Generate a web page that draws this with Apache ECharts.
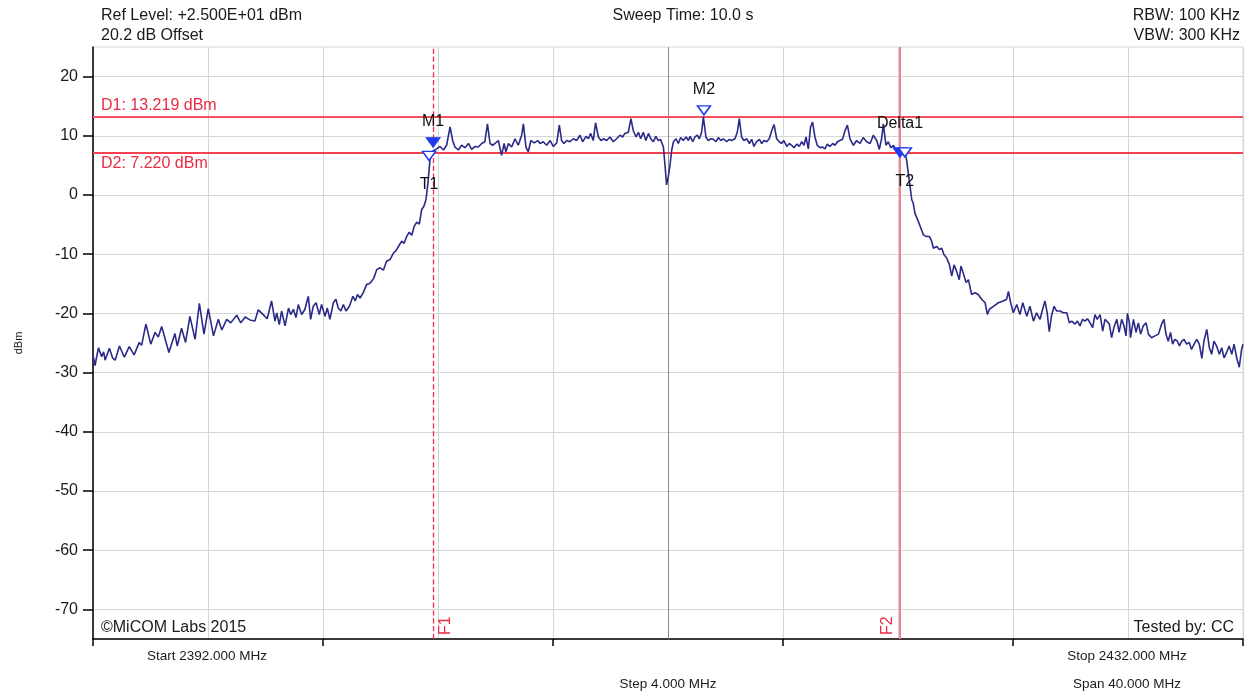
<!DOCTYPE html>
<html>
<head>
<meta charset="utf-8">
<script src="https://cdn.jsdelivr.net/npm/echarts@6/dist/echarts.min.js"></script>
<style>
html,body{margin:0;padding:0;background:#fff;}
#chart{width:1250px;height:695px;}
</style>
</head>
<body>
<div id="chart"></div>
<script>
// ---- axis ranges & ticks ----
const freqStart = 2392, freqStop = 2432, freqStep = 4, freqMajorStep = 8;
const levelMin = -75, levelMax = 25;
const levelTicks = [-70, -60, -50, -40, -30, -20, -10, 0, 10, 20];

// ---- display lines ----
const d1Level = 13.219, d2Level = 7.220;
const f1Freq = 2403.83, f2Freq = 2420.07, centerFreq = 2412;

// ---- trace: [MHz, dBm] ----
const trace = [
[2392.00,-27.0],[2392.07,-28.8],[2392.19,-25.8],[2392.30,-27.3],[2392.37,-26.5],[2392.42,-27.9],[2392.57,-25.9],[2392.68,-27.5],[2392.77,-27.9],[2392.92,-25.5],
[2393.09,-27.4],[2393.26,-25.6],[2393.43,-27.0],[2393.61,-24.9],[2393.69,-25.4],[2393.84,-21.8],[2394.01,-25.2],[2394.16,-23.2],[2394.27,-24.0],[2394.39,-22.2],
[2394.64,-26.6],[2394.85,-23.4],[2394.93,-25.5],[2395.08,-22.5],[2395.22,-24.9],[2395.37,-20.5],[2395.55,-24.4],[2395.70,-18.3],[2395.86,-23.5],[2396.01,-19.2],
[2396.19,-23.8],[2396.36,-21.0],[2396.48,-22.8],[2396.65,-21.0],[2396.79,-21.6],[2397.00,-20.3],[2397.14,-21.6],[2397.29,-20.6],[2397.46,-21.1],[2397.63,-21.3],
[2397.75,-19.4],[2397.92,-20.2],[2398.06,-20.9],[2398.21,-17.9],[2398.33,-21.3],
[2398.39,-19.9],[2398.48,-21.9],[2398.56,-19.6],[2398.68,-22.1],[2398.80,-19.1],[2398.88,-20.2],[2398.97,-19.3],[2399.06,-20.7],[2399.14,-18.5],[2399.26,-20.2],
[2399.37,-19.3],[2399.49,-17.1],[2399.57,-21.0],[2399.66,-18.8],[2399.76,-18.2],[2399.87,-20.2],[2399.95,-18.5],[2400.07,-20.5],[2400.15,-19.1],[2400.24,-21.0],
[2400.36,-18.2],[2400.45,-17.6],[2400.53,-19.1],[2400.62,-19.6],[2400.71,-18.5],[2400.80,-19.6],[2400.92,-18.8],[2401.04,-17.1],[2401.12,-17.9],[2401.20,-16.8],
[2401.29,-17.4],[2401.40,-16.5],[2401.52,-15.1],[2401.61,-15.0],[2401.69,-14.6],[2401.77,-14.0],[2401.87,-12.6],[2401.98,-12.3],[2402.10,-12.7],[2402.21,-11.2],
[2402.33,-10.9],[2402.45,-9.8],[2402.54,-9.4],[2402.66,-8.4],[2402.74,-7.8],[2402.82,-8.2],[2402.91,-7.0],[2403.00,-6.3],[2403.09,-6.8],[2403.17,-5.3],
[2403.26,-4.6],[2403.35,-4.9],[2403.43,-2.5],[2403.51,-1.9],[2403.58,-0.8],[2403.65,2.0],[2403.72,5.9],[2403.79,7.3],
[2403.95,7.8],[2404.07,8.2],[2404.19,7.6],[2404.30,8.4],[2404.42,11.5],[2404.51,9.2],[2404.59,8.1],[2404.71,7.6],[2404.82,8.4],[2404.94,8.0],
[2405.06,8.7],[2405.17,7.7],[2405.29,8.2],[2405.40,8.1],[2405.52,8.7],[2405.63,9.0],[2405.72,12.0],[2405.81,8.7],[2405.90,8.4],[2405.98,8.7],
[2406.10,9.2],[2406.21,6.7],[2406.30,8.7],[2406.36,7.3],[2406.45,8.7],[2406.56,8.1],[2406.68,9.5],[2406.79,8.4],[2406.91,10.1],[2406.97,12.0],
[2407.06,8.1],[2407.14,7.3],[2407.23,9.2],[2407.35,8.8],[2407.47,9.2],[2407.55,8.7],[2407.66,9.0],[2407.78,8.4],[2407.90,9.2],[2408.01,8.2],
[2408.13,8.8],[2408.22,11.8],[2408.30,9.2],[2408.38,8.7],[2408.48,9.2],[2408.59,9.0],[2408.71,9.5],[2408.82,9.2],[2408.94,10.1],[2409.03,9.0],
[2409.15,9.9],[2409.23,9.5],[2409.31,10.4],[2409.40,9.2],[2409.48,12.2],[2409.58,9.8],[2409.67,9.2],[2409.75,9.5],[2409.87,9.2],[2409.98,9.8],
[2410.10,9.0],[2410.21,9.5],[2410.33,10.1],[2410.42,9.8],[2410.50,10.4],[2410.62,10.6],[2410.71,12.9],[2410.79,10.9],[2410.89,9.8],[2410.97,10.6],
[2411.05,9.5],[2411.14,10.6],[2411.23,9.2],[2411.32,10.4],[2411.40,9.5],[2411.49,9.0],[2411.58,9.9],[2411.66,9.2],[2411.74,9.4],[2411.84,8.1],
[2411.92,3.6],[2411.95,1.7],[2412.01,3.1],[2412.07,5.0],[2412.13,7.6],[2412.19,9.0],[2412.28,9.5],[2412.36,8.7],[2412.44,9.7],[2412.53,9.2],
[2412.63,9.8],[2412.71,9.2],[2412.77,9.9],[2412.86,9.0],[2412.94,9.8],[2413.02,10.1],[2413.09,9.5],[2413.17,10.6],[2413.23,13.2],[2413.32,9.8],
[2413.40,9.2],[2413.48,9.5],[2413.58,9.4],[2413.67,9.0],[2413.75,9.7],[2413.84,9.2],[2413.92,9.5],[2414.04,9.0],[2414.13,9.4],[2414.21,9.2],
[2414.33,9.5],[2414.41,10.6],[2414.48,12.9],[2414.56,9.8],[2414.64,9.2],[2414.74,9.5],[2414.83,8.7],[2414.91,9.4],[2414.99,8.2],[2415.08,9.0],
[2415.18,9.4],[2415.26,8.7],[2415.34,9.2],[2415.43,9.0],[2415.52,9.5],[2415.61,10.9],[2415.69,11.9],[2415.78,9.5],[2415.87,9.0],[2415.95,8.7],
[2416.03,9.2],[2416.13,8.2],[2416.22,8.7],[2416.30,8.4],[2416.38,8.0],[2416.48,8.6],[2416.57,8.2],[2416.65,9.0],[2416.73,8.4],[2416.80,9.8],
[2416.88,7.8],[2416.96,11.5],[2417.03,12.3],[2417.11,9.8],[2417.19,8.4],[2417.29,8.0],[2417.38,8.1],[2417.46,7.8],[2417.54,8.6],[2417.63,8.2],
[2417.73,8.7],[2417.81,8.4],[2417.89,9.0],[2417.98,9.2],[2418.07,9.4],[2418.16,10.9],[2418.24,11.8],
[2418.33,9.5],[2418.45,8.4],[2418.56,9.2],[2418.68,8.7],[2418.79,9.7],[2418.91,9.0],[2419.03,8.7],[2419.14,10.1],[2419.26,9.2],[2419.35,7.7],
[2419.43,9.5],[2419.49,12.0],[2419.58,8.4],[2419.66,9.0],[2419.75,8.0],[2419.84,8.4],[2419.93,7.6],[2420.02,7.2],
[2420.24,7.3],[2420.30,5.9],[2420.36,3.6],[2420.42,1.4],[2420.48,-0.8],[2420.53,-1.4],[2420.59,-3.1],[2420.71,-4.5],[2420.82,-5.9],[2420.88,-6.7],
[2420.97,-7.0],[2421.09,-7.0],[2421.17,-7.8],[2421.23,-9.0],[2421.35,-8.7],[2421.44,-9.2],[2421.52,-9.0],[2421.60,-10.1],[2421.69,-10.6],[2421.79,-11.8],
[2421.87,-13.7],[2421.95,-11.8],[2422.04,-12.9],[2422.13,-14.3],[2422.19,-12.0],[2422.27,-13.2],[2422.37,-14.8],[2422.45,-14.3],[2422.56,-16.8],[2422.68,-16.5],
[2422.79,-16.8],[2422.91,-17.6],[2423.03,-18.2],[2423.11,-20.2],[2423.18,-19.3],[2423.32,-18.8],[2423.49,-18.2],[2423.66,-17.9],[2423.78,-17.6],[2423.84,-16.3],
[2423.92,-18.2],[2424.01,-19.9],[2424.13,-18.5],[2424.24,-20.2],[2424.34,-18.2],[2424.48,-20.5],[2424.59,-18.8],[2424.71,-21.3],[2424.82,-19.9],
[2424.94,-21.0],[2425.03,-19.3],[2425.11,-17.9],[2425.19,-19.9],[2425.26,-23.1],[2425.34,-20.4],[2425.43,-18.8],[2425.52,-19.6],
[2425.63,-19.6],[2425.75,-19.9],[2425.87,-19.9],[2425.96,-21.6],[2426.04,-21.3],[2426.16,-21.8],[2426.24,-21.3],[2426.33,-22.1],[2426.42,-21.0],[2426.50,-21.3],
[2426.59,-20.9],[2426.68,-21.6],[2426.77,-22.4],[2426.85,-20.2],[2426.93,-21.0],[2427.03,-20.2],[2427.12,-23.0],[2427.20,-21.0],[2427.26,-20.7],[2427.35,-21.8],
[2427.43,-24.1],[2427.51,-22.4],[2427.61,-21.0],[2427.69,-23.2],[2427.78,-21.0],[2427.86,-22.1],[2427.93,-23.8],[2427.98,-20.0],[2428.05,-21.6],[2428.09,-24.1],
[2428.19,-21.0],[2428.28,-23.2],[2428.36,-21.6],[2428.44,-23.5],[2428.53,-22.1],[2428.63,-21.6],[2428.71,-23.5],[2428.82,-24.1],[2428.94,-23.8],[2429.06,-23.5],
[2429.17,-21.8],[2429.25,-21.0],[2429.32,-23.5],[2429.40,-24.7],[2429.48,-23.2],[2429.55,-25.2],[2429.63,-24.4],[2429.72,-24.7],[2429.79,-25.5],[2429.87,-24.7],
[2429.95,-24.4],[2430.04,-25.2],[2430.13,-24.9],[2430.21,-26.1],[2430.30,-25.2],[2430.39,-24.4],[2430.48,-25.2],[2430.57,-27.6],[2430.64,-24.7],[2430.74,-22.7],
[2430.83,-25.8],[2430.91,-26.9],[2430.99,-24.7],[2431.08,-25.5],[2431.18,-26.9],[2431.26,-25.8],[2431.34,-27.5],[2431.43,-26.6],[2431.52,-25.5],[2431.61,-26.9],
[2431.69,-25.2],[2431.78,-27.5],[2431.87,-29.1],[2431.95,-26.1],[2432.00,-25.2]
];

// ---- markers ----
const markerNames  = ['M1', 'T1', 'M2', 'Delta1', 'T2'];
const markerFreq   = [2403.83, 2403.69, 2413.25, 2420.07, 2420.24];
const markerLevel  = [8.9, 6.6, 14.3, 7.2, 7.2];
const markerFilled = [true, false, false, true, false];
const markerLabelSide = ['top', 'bottom', 'top', 'top', 'bottom'];

// ---- header / footer texts ----
const refLevelText = 'Ref Level: +2.500E+01 dBm';
const offsetText = '20.2 dB Offset';
const sweepText = 'Sweep Time: 10.0 s';
const rbwText = 'RBW: 100 KHz';
const vbwText = 'VBW: 300 KHz';
const copyrightText = '\u00A9MiCOM Labs 2015';
const testedText = 'Tested by: CC';
const startText = 'Start 2392.000 MHz';
const stopText = 'Stop 2432.000 MHz';
const stepText = 'Step 4.000 MHz';
const spanText = 'Span 40.000 MHz';

const FONT = '"Liberation Sans", Arial, sans-serif';
const BLUE = '#1f3cf0';
const RED = '#ec2a44';

const chart = echarts.init(document.getElementById('chart'), null, {renderer: 'canvas'});

const markerData = markerNames.map((n, i) => ({
  name: n,
  value: [markerFreq[i], markerLevel[i]],
  itemStyle: {color: markerFilled[i] ? BLUE : '#ffffff', borderColor: BLUE, borderWidth: 1.5, opacity: 1},
  label: {
    show: true, position: markerLabelSide[i], formatter: n,
    distance: (n === 'Delta1') ? 16 : (markerLabelSide[i] === 'top' ? 8 : 16),
    color: '#111111', opacity: 1, fontSize: 16, fontFamily: FONT
  }
}));

function txt(x, y, text, align, size, color) {
  return {type: 'text', x: x, y: y, silent: true,
    style: {text: text, fill: color || '#1a1a1a', font: (size || 16) + 'px ' + FONT,
      align: align || 'left', verticalAlign: 'middle'}};
}

const option = {
  animation: false,
  backgroundColor: '#ffffff',
  grid: {left: 93, right: 7, top: 47, bottom: 56, show: true, borderColor: '#d6d6d6', borderWidth: 1, containLabel: false},
  xAxis: [
    {type: 'value', min: freqStart, max: freqStop, interval: freqStep, position: 'bottom',
     axisLine: {show: true, onZero: false, lineStyle: {color: '#000', width: 1.5}},
     axisTick: {show: false}, axisLabel: {show: false},
     splitLine: {show: true, lineStyle: {color: '#d6d6d6', width: 1}}},
    {type: 'value', min: freqStart, max: freqStop, interval: freqMajorStep, position: 'bottom',
     axisLine: {show: false, onZero: false},
     axisTick: {show: true, inside: false, length: 7, lineStyle: {color: '#000', width: 1.5}},
     axisLabel: {show: false}, splitLine: {show: false}}
  ],
  yAxis: {
    type: 'value', min: levelMin, max: levelMax,
    axisLine: {show: true, onZero: false, lineStyle: {color: '#000', width: 1.5}},
    axisTick: {show: true, length: 10, customValues: levelTicks, lineStyle: {color: '#000', width: 1.5}},
    axisLabel: {show: true, customValues: levelTicks, color: '#1a1a1a', fontSize: 16, fontFamily: FONT, margin: 15},
    splitLine: {show: true, lineStyle: {color: '#d6d6d6', width: 1}},
    name: 'dBm', nameLocation: 'middle', nameGap: 69, nameRotate: 90,
    nameTextStyle: {fontSize: 11, color: '#1a1a1a', fontFamily: FONT}
  },
  series: [
    {
      type: 'line', data: trace, xAxisIndex: 0, showSymbol: false, symbol: 'none',
      lineStyle: {color: '#2a2a88', width: 1.6}, z: 3, silent: true,
      markLine: {
        silent: true, symbol: 'none', z: 2,
        data: [
          {xAxis: centerFreq, lineStyle: {color: '#8c8c8c', width: 1, type: 'solid'}, label: {show: false}},
          {xAxis: f1Freq, lineStyle: {color: '#f0304c', width: 1.3, type: 'dashed', opacity: 1},
           label: {show: true, formatter: 'F1', position: 'insideStartBottom', color: RED, fontSize: 16, fontFamily: FONT, distance: 4}},
          {xAxis: f2Freq, lineStyle: {color: '#f07f92', width: 2, type: 'solid'},
           label: {show: true, formatter: 'F2', position: 'insideStartTop', color: RED, fontSize: 16, fontFamily: FONT, distance: 4}},
          {yAxis: d1Level, lineStyle: {color: '#f4505f', width: 2, type: 'solid'},
           label: {show: true, formatter: 'D1: 13.219 dBm', position: 'insideStartTop', color: RED, fontSize: 16, fontFamily: FONT, distance: 3, padding: [0, 0, 0, 5]}},
          {yAxis: d2Level, lineStyle: {color: '#f4404f', width: 2, type: 'solid'},
           label: {show: true, formatter: 'D2: 7.220 dBm', position: 'insideStartBottom', color: RED, fontSize: 16, fontFamily: FONT, distance: 3, padding: [0, 0, 0, 5]}}
        ]
      }
    },
    {
      type: 'scatter', data: markerData, symbol: 'triangle', symbolRotate: 180, symbolSize: [13, 9],
      z: 5, silent: true, itemStyle: {opacity: 1}
    }
  ],
  graphic: [
    txt(101, 16, refLevelText, 'left'),
    txt(101, 36, offsetText, 'left'),
    txt(683, 16, sweepText, 'center'),
    txt(1240, 16, rbwText, 'right'),
    txt(1240, 36, vbwText, 'right'),
    txt(101, 628, copyrightText, 'left'),
    txt(1234, 628, testedText, 'right'),
    txt(207, 656, startText, 'center', 13.5),
    txt(1127, 656, stopText, 'center', 13.5),
    txt(668, 684, stepText, 'center', 13.5),
    txt(1127, 684, spanText, 'center', 13.5)
  ]
};
chart.setOption(option);
</script>
</body>
</html>
